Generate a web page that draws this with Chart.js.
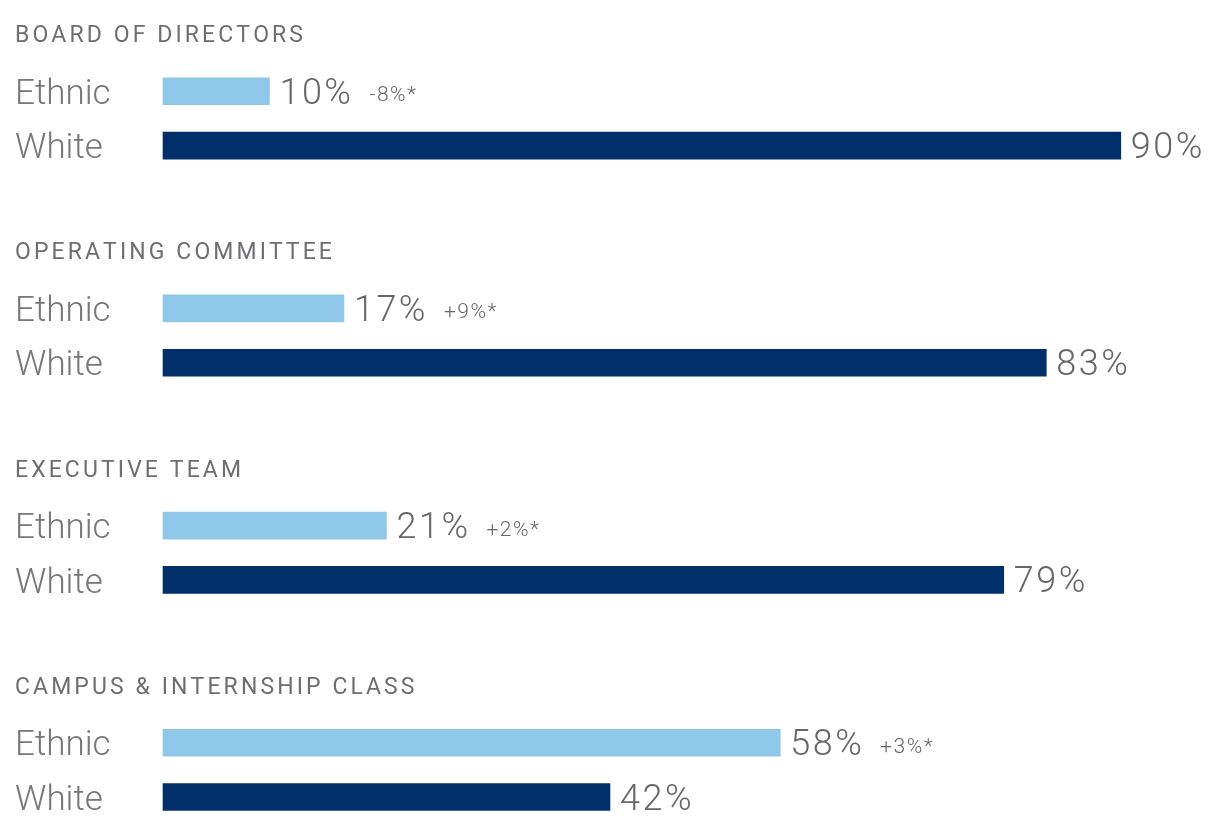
<!DOCTYPE html>
<html>
<head>
<meta charset="utf-8">
<script src="https://cdn.jsdelivr.net/npm/chart.js@4.4.1/dist/chart.umd.min.js"></script>
<style>
  html, body { margin: 0; padding: 0; background: #ffffff; }
  #wrap { width: 1213px; height: 819px; position: relative; }
</style>
</head>
<body>
<div id="wrap"><canvas id="chart"></canvas></div>
<script>
// Leadership groups and their ethnic / white composition (percent)
const groups = ['BOARD OF DIRECTORS', 'OPERATING COMMITTEE', 'EXECUTIVE TEAM', 'CAMPUS & INTERNSHIP CLASS'];
const rowNames = ['Ethnic', 'White'];
const ethnicShare = [10, 17, 21, 58];
const whiteShare = [90, 83, 79, 42];
const ethnicChange = ['-8%*', '+9%*', '+2%*', '+3%*'];

const FONT = "Roboto, 'Liberation Sans', sans-serif";
const TEXT = '#6d6e71';

// Each group takes four rows: heading, Ethnic, White, spacer (last spacer dropped)
const rowLabels = [];
const ethnicRows = [];
const whiteRows = [];
groups.forEach((g, i) => {
  rowLabels.push('', rowNames[0], rowNames[1]);
  ethnicRows.push(null, ethnicShare[i], null);
  whiteRows.push(null, null, whiteShare[i]);
  if (i < groups.length - 1) {
    rowLabels.push('');
    ethnicRows.push(null);
    whiteRows.push(null);
  }
});

// text with extra tracking between characters
function spacedText(ctx, str, x, y, gap) {
  for (const ch of str) {
    ctx.fillText(ch, x, y);
    x += ctx.measureText(ch).width + gap;
  }
}

// Draws group headings, value labels and the year-over-year change
const annotations = {
  id: 'annotations',
  afterDatasetsDraw(chart) {
    const ctx = chart.ctx;
    const yScale = chart.scales.y;
    ctx.save();
    ctx.textBaseline = 'alphabetic';
    ctx.textAlign = 'left';

    // group headings, placed above each group's Ethnic row
    ctx.fillStyle = TEXT;
    ctx.font = `400 23px ${FONT}`;
    groups.forEach((g, i) => {
      const y = yScale.getPixelForValue(i * 4 + 1) - 49;
      spacedText(ctx, g, 15, y, 3.1);
    });

    chart.data.datasets.forEach((ds, di) => {
      const meta = chart.getDatasetMeta(di);
      let k = 0;
      meta.data.forEach((bar, idx) => {
        const v = ds.data[idx];
        if (v === null || v === undefined) return;
        ctx.fillStyle = '#666769';
        ctx.font = `300 36px ${FONT}`;
        spacedText(ctx, v + '%', bar.x + 10, bar.y + 12.5, 2.5);
        if (di === 0) {
          ctx.font = `300 21px ${FONT}`;
          spacedText(ctx, ethnicChange[k], bar.x + 100, bar.y + 10, 1.5);
        }
        k++;
      });
    });
    ctx.restore();
  }
};

new Chart(document.getElementById('chart'), {
  type: 'bar',
  data: {
    labels: rowLabels,
    datasets: [
      { label: 'Ethnic', data: ethnicRows, backgroundColor: '#8fc7e8', clip: false },
      { label: 'White', data: whiteRows, backgroundColor: '#002f6a', clip: false }
    ]
  },
  options: {
    indexAxis: 'y',
    responsive: true,
    maintainAspectRatio: false,
    animation: false,
    grouped: false,
    barThickness: 27,
    layout: { padding: { left: 15, top: 37, right: 39, bottom: 22 } },
    plugins: {
      legend: { display: false },
      tooltip: { enabled: false }
    },
    scales: {
      x: { display: false, min: 0, max: 95 },
      y: {
        offset: false,
        grid: { display: false },
        border: { display: false },
        ticks: {
          autoSkip: false,
          crossAlign: 'far',
          padding: 0,
          labelOffset: 4,
          color: '#75777a',
          font: { family: FONT, size: 35, weight: 300 }
        },
        afterFit(scale) { scale.width = 148; }
      }
    }
  },
  plugins: [annotations]
});
</script>
</body>
</html>
